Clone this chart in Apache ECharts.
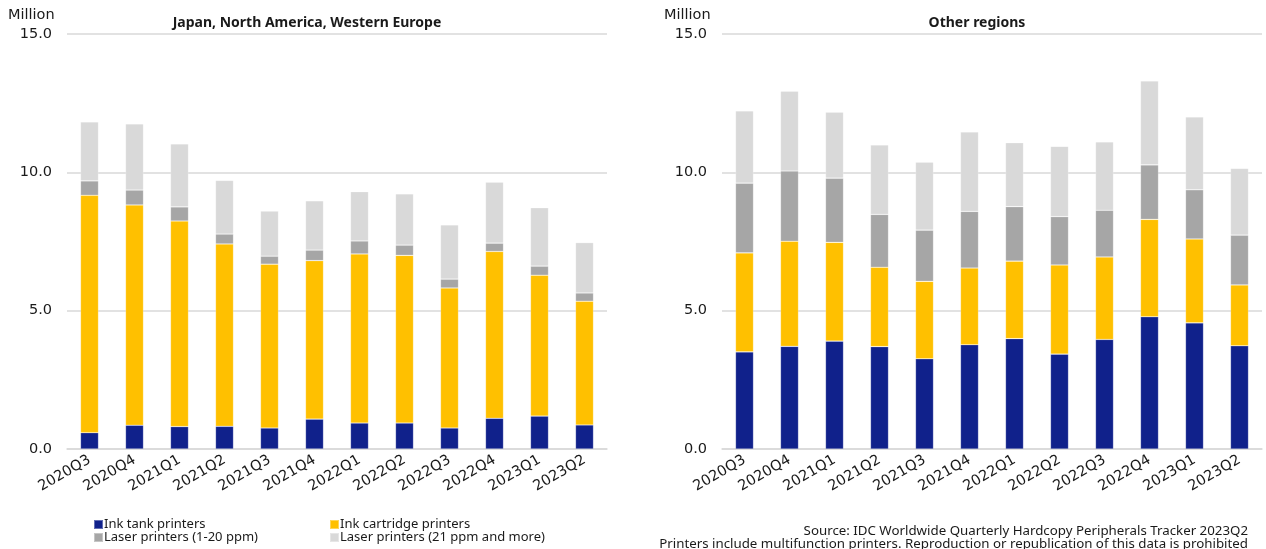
<!DOCTYPE html>
<html>
<head>
<meta charset="utf-8">
<script src="https://cdn.jsdelivr.net/npm/echarts@6/dist/echarts.min.js"></script>
<style>
html,body{margin:0;padding:0;background:#fff;}
#main{width:1266px;height:549px;}
</style>
</head>
<body>
<div id="main"></div>
<script>
const categories = ['2020Q3','2020Q4','2021Q1','2021Q2','2021Q3','2021Q4','2022Q1','2022Q2','2022Q3','2022Q4','2023Q1','2023Q2'];
const yTicks = [0, 5, 10, 15];
const seriesNames = ['Ink tank printers','Ink cartridge printers','Laser printers (1-20 ppm)','Laser printers (21 ppm and more)'];

// Japan, North America, Western Europe
const devInkTank      = [0.59, 0.86, 0.81, 0.82, 0.76, 1.08, 0.94, 0.94, 0.76, 1.11, 1.19, 0.87];
const devInkCartridge = [8.58, 7.96, 7.43, 6.59, 5.92, 5.73, 6.11, 6.06, 5.06, 6.03, 5.09, 4.47];
const devLaserLow     = [0.52, 0.54, 0.51, 0.36, 0.29, 0.38, 0.47, 0.37, 0.32, 0.30, 0.33, 0.30];
const devLaserHigh    = [2.13, 2.39, 2.28, 1.94, 1.63, 1.78, 1.78, 1.85, 1.96, 2.20, 2.11, 1.82];

// Other regions
const othInkTank      = [3.51, 3.71, 3.90, 3.70, 3.26, 3.77, 3.99, 3.43, 3.96, 4.78, 4.56, 3.73];
const othInkCartridge = [3.58, 3.80, 3.57, 2.87, 2.80, 2.77, 2.80, 3.22, 2.98, 3.52, 3.03, 2.20];
const othLaserLow     = [2.52, 2.54, 2.32, 1.91, 1.85, 2.05, 1.97, 1.75, 1.69, 1.97, 1.78, 1.80];
const othLaserHigh    = [2.61, 2.88, 2.38, 2.51, 2.46, 2.87, 2.31, 2.54, 2.47, 3.03, 2.63, 2.41];

const sourceLines = [
  'Source: IDC Worldwide Quarterly Hardcopy Peripherals Tracker 2023Q2',
  'Printers include multifunction printers. Reproduction or republication of this data is prohibited'
];

const colors = ['#10218B', '#FFC000', '#A6A6A6', '#D9D9D9'];
const AXFONT = '"DejaVu Sans", sans-serif';
const FONT = '"Noto Sans", "Open Sans", sans-serif';
const TXT = '#1a1a1a';

const chart = echarts.init(document.getElementById('main'), null, {renderer: 'canvas'});

function xAxisCfg(gi) {
  return {
    type: 'category', gridIndex: gi, data: categories,
    axisLine: {show: true, lineStyle: {color: '#d9d9d9', width: 1.5}},
    axisTick: {show: false},
    axisLabel: {rotate: 30, fontSize: 14.5, color: TXT, fontFamily: AXFONT, margin: 10, interval: 0}
  };
}
function yAxisCfg(gi) {
  return {
    type: 'value', gridIndex: gi, min: yTicks[0], max: yTicks[yTicks.length-1], interval: yTicks[1]-yTicks[0],
    axisLine: {show: false}, axisTick: {show: false},
    splitLine: {lineStyle: {color: '#d9d9d9', width: 1.5}},
    axisLabel: {fontSize: 14.5, color: TXT, fontFamily: AXFONT, margin: 15, formatter: v => v.toFixed(1)}
  };
}
function barSeries(name, data, idx, ci) {
  return {
    name: name, type: 'bar', stack: 's' + idx, xAxisIndex: idx, yAxisIndex: idx,
    data: data, barWidth: 18,
    itemStyle: {color: colors[ci], borderColor: 'rgba(255,255,255,0.35)', borderWidth: 0.6},
    emphasis: {disabled: true}
  };
}

const devData = [devInkTank, devInkCartridge, devLaserLow, devLaserHigh];
const othData = [othInkTank, othInkCartridge, othLaserLow, othLaserHigh];
const series = [];
seriesNames.forEach((n, i) => series.push(barSeries(n, devData[i], 0, i)));
seriesNames.forEach((n, i) => series.push(barSeries(n, othData[i], 1, i)));

const legendPos = [[93, 518], [329, 518], [93, 531], [329, 531]];
const legends = seriesNames.map((n, i) => ({
  data: [n], left: legendPos[i][0], top: legendPos[i][1], padding: 0,
  itemWidth: 9, itemHeight: 9, icon: 'rect', selectedMode: false,
  textStyle: {fontSize: 13, color: TXT, fontFamily: FONT, lineHeight: 12, padding: [0, 0, 0, -4]}
}));

chart.setOption({
  animation: false,
  color: colors,
  textStyle: {fontFamily: FONT},
  title: [
    {text: 'Japan, North America, Western Europe', left: 302, top: 11, textAlign: 'center',
      textStyle: {fontSize: 14, fontWeight: 'bold', color: TXT, fontFamily: FONT}},
    {text: 'Other regions', left: 972, top: 11, textAlign: 'center',
      textStyle: {fontSize: 14, fontWeight: 'bold', color: TXT, fontFamily: FONT}},
    {text: 'Million', left: 8, top: 8, padding: 0, textStyle: {fontSize: 14.5, fontWeight: 'normal', color: TXT, fontFamily: AXFONT}},
    {text: 'Million', left: 664, top: 8, padding: 0, textStyle: {fontSize: 14.5, fontWeight: 'normal', color: TXT, fontFamily: AXFONT}}
  ],
  graphic: sourceLines.map((t, i) => ({
    type: 'text', right: 18, top: 525 + i * 13, silent: true,
    style: {text: t, fontSize: 13.3, fill: TXT, fontFamily: FONT, textAlign: 'right'}
  })),
  legend: legends,
  grid: [
    {left: 67, top: 34, width: 540, height: 415, containLabel: false},
    {left: 722, top: 34, width: 540, height: 415, containLabel: false}
  ],
  xAxis: [xAxisCfg(0), xAxisCfg(1)],
  yAxis: [yAxisCfg(0), yAxisCfg(1)],
  series: series
});
</script>
</body>
</html>
